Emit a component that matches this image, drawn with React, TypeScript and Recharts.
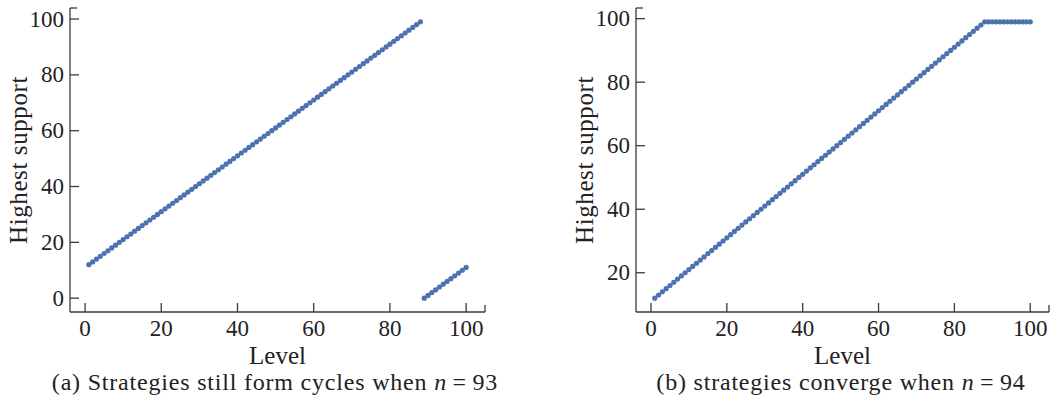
import { ScatterChart, Scatter, XAxis, YAxis } from "recharts";

// level index shared by both panels
const LEVEL = [
  1, 2, 3, 4, 5, 6, 7, 8, 9, 10, 11, 12, 13, 14, 15, 16, 17, 18, 19, 20,
  21, 22, 23, 24, 25, 26, 27, 28, 29, 30, 31, 32, 33, 34, 35, 36, 37, 38, 39, 40,
  41, 42, 43, 44, 45, 46, 47, 48, 49, 50, 51, 52, 53, 54, 55, 56, 57, 58, 59, 60,
  61, 62, 63, 64, 65, 66, 67, 68, 69, 70, 71, 72, 73, 74, 75, 76, 77, 78, 79, 80,
  81, 82, 83, 84, 85, 86, 87, 88, 89, 90, 91, 92, 93, 94, 95, 96, 97, 98, 99, 100,
];

// (a) n = 93
const SUPPORT_A = [
  12, 13, 14, 15, 16, 17, 18, 19, 20, 21, 22, 23, 24, 25, 26, 27, 28, 29, 30, 31,
  32, 33, 34, 35, 36, 37, 38, 39, 40, 41, 42, 43, 44, 45, 46, 47, 48, 49, 50, 51,
  52, 53, 54, 55, 56, 57, 58, 59, 60, 61, 62, 63, 64, 65, 66, 67, 68, 69, 70, 71,
  72, 73, 74, 75, 76, 77, 78, 79, 80, 81, 82, 83, 84, 85, 86, 87, 88, 89, 90, 91,
  92, 93, 94, 95, 96, 97, 98, 99, 0, 1, 2, 3, 4, 5, 6, 7, 8, 9, 10, 11,
];

// (b) n = 94
const SUPPORT_B = [
  12, 13, 14, 15, 16, 17, 18, 19, 20, 21, 22, 23, 24, 25, 26, 27, 28, 29, 30, 31,
  32, 33, 34, 35, 36, 37, 38, 39, 40, 41, 42, 43, 44, 45, 46, 47, 48, 49, 50, 51,
  52, 53, 54, 55, 56, 57, 58, 59, 60, 61, 62, 63, 64, 65, 66, 67, 68, 69, 70, 71,
  72, 73, 74, 75, 76, 77, 78, 79, 80, 81, 82, 83, 84, 85, 86, 87, 88, 89, 90, 91,
  92, 93, 94, 95, 96, 97, 98, 99, 99, 99, 99, 99, 99, 99, 99, 99, 99, 99, 99, 99,
];

const X_TICKS = [0, 20, 40, 60, 80, 100];
const Y_TICKS_A = [0, 20, 40, 60, 80, 100];
const Y_TICKS_B = [20, 40, 60, 80, 100];

const FONT = "'Liberation Serif', 'Times New Roman', serif";
const INK = "#222";
const AXIS = "#3a3a3a";
const DOT = "#4C72B0";

const rowsA = LEVEL.map((l, i) => ({ level: l, support: SUPPORT_A[i] }));
const rowsB = LEVEL.map((l, i) => ({ level: l, support: SUPPORT_B[i] }));

// ticks point inward; the domain end gets a bare tick like the original
function xTick(max: number) {
  return (p: any) => {
    const v = p.payload.value;
    const end = v === max;
    return (
      <g>
        <line x1={p.x} x2={p.x} y1={p.y} y2={p.y - (end ? 7 : 9)} stroke={AXIS} strokeWidth={1.3} />
        {!end && (
          <text x={p.x} y={p.y + 24} textAnchor="middle" fontSize={23} fontFamily={FONT} fill={INK}>{v}</text>
        )}
      </g>
    );
  };
}

function yTick(max: number) {
  return (p: any) => {
    const v = p.payload.value;
    const end = v === max;
    return (
      <g>
        <line x1={p.x} x2={p.x + (end ? 7 : 9)} y1={p.y} y2={p.y} stroke={AXIS} strokeWidth={1.3} />
        {!end && (
          <text x={p.x - 6} y={p.y} textAnchor="end" dominantBaseline="central" fontSize={23} fontFamily={FONT} fill={INK}>{v}</text>
        )}
      </g>
    );
  };
}

function yLabel(cx: number) {
  return (p: any) => {
    const vb = p.viewBox || { x: 0, y: 8, height: 304 };
    const x = vb.x + cx;
    const y = vb.y + vb.height / 2;
    return (
      <text x={x} y={y} transform={`rotate(-90 ${x} ${y})`} textAnchor="middle" dominantBaseline="central"
        fontSize={25} letterSpacing={0.6} fontFamily={FONT} fill={INK}>Highest support</text>
    );
  };
}

const dot = (p: any) => <circle cx={p.cx} cy={p.cy} r={2.6} fill={DOT} />;

function Panel({ rows, width, yWidth, right, yDomain, yTicks, labelX }: any) {
  const xDomain = [-3.95, 104.95];
  return (
    <ScatterChart width={width} height={399} margin={{ top: 8, right, bottom: 57, left: 0 }}>
      <XAxis type="number" dataKey="level" domain={xDomain} ticks={[...X_TICKS, xDomain[1]]} allowDataOverflow
        interval={0} height={30} tickSize={0} tickMargin={0} tickLine={false} tick={xTick(xDomain[1])}
        axisLine={{ stroke: AXIS, strokeWidth: 1.3 }}
        label={{ value: "Level", position: "bottom", offset: 4, fontSize: 25, fontFamily: FONT, fill: INK }} />
      <YAxis type="number" dataKey="support" domain={yDomain} ticks={[...yTicks, yDomain[1]]} allowDataOverflow
        interval={0} width={yWidth} tickSize={0} tickMargin={0} tickLine={false} tick={yTick(yDomain[1])}
        axisLine={{ stroke: AXIS, strokeWidth: 1.3 }} label={yLabel(labelX)} />
      <Scatter data={rows} shape={dot} isAnimationActive={false} />
    </ScatterChart>
  );
}

export default function App() {
  return (
    <div style={{ position: "absolute", left: 0, top: 0, width: 1050, height: 399, background: "#fff", fontFamily: FONT }}>
      <div style={{ position: "absolute", left: 0, top: 0 }}>
        <Panel rows={rowsA} width={500} yWidth={70} right={15} yDomain={[-4.95, 103.95]} yTicks={Y_TICKS_A} labelX={18} />
      </div>
      <div style={{ position: "absolute", left: 560, top: 0 }}>
        <Panel rows={rowsB} width={490} yWidth={76} right={1} yDomain={[7.65, 103.35]} yTicks={Y_TICKS_B} labelX={24} />
      </div>
      <svg width={1050} height={399} style={{ position: "absolute", left: 0, top: 0, pointerEvents: "none" }}>
        <text x={275} y={390} textAnchor="middle" fontSize={24} letterSpacing={0.8} fontFamily={FONT} fill={INK}>
          (a) Strategies still form cycles when <tspan fontStyle="italic">n</tspan>{"\u2009=\u200993"}
        </text>
        <text x={841} y={390} textAnchor="middle" fontSize={24} letterSpacing={0.8} fontFamily={FONT} fill={INK}>
          (b) strategies converge when <tspan fontStyle="italic">n</tspan>{"\u2009=\u200994"}
        </text>
      </svg>
    </div>
  );
}
